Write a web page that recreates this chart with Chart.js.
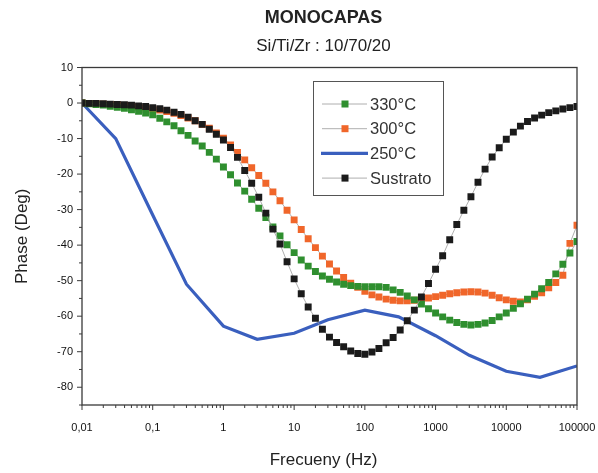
<!DOCTYPE html>
<html>
<head>
<meta charset="utf-8">
<script src="https://cdn.jsdelivr.net/npm/chart.js@4.4.1/dist/chart.umd.min.js"></script>
<style>
    html, body { margin: 0; padding: 0; background: #fff; }
    #wrap { width: 598px; height: 473px; }
</style>
</head>
<body>
<div id="wrap"><canvas id="phaseChart" width="598" height="473"></canvas></div>
<script>
// Frequencies of the measured series (10 points per decade)
const freqs = [
    0.01, 0.0126, 0.0158, 0.02, 0.0251, 0.0316, 0.0398, 0.0501, 0.0631, 0.0794,
    0.1, 0.126, 0.158, 0.2, 0.251, 0.316, 0.398, 0.501, 0.631, 0.794,
    1, 1.26, 1.58, 2, 2.51, 3.16, 3.98, 5.01, 6.31, 7.94,
    10, 12.6, 15.8, 20, 25.1, 31.6, 39.8, 50.1, 63.1, 79.4,
    100, 126, 158, 200, 251, 316, 398, 501, 631, 794,
    1000, 1259, 1585, 1995, 2512, 3162, 3981, 5012, 6310, 7943,
    10000, 12589, 15849, 19953, 25119, 31623, 39811, 50119, 63096, 79433,
    100000
];

const sustrato = [
    0, -0.1, -0.1, -0.2, -0.3, -0.4, -0.5, -0.6, -0.8, -1.0,
    -1.3, -1.6, -2.0, -2.6, -3.2, -4.0, -5.0, -6.0, -7.4, -8.8,
    -10.4, -12.5, -15.3, -19.0, -22.6, -26.5, -31.0, -35.5, -39.7, -44.7,
    -49.5, -53.7, -57.4, -60.6, -63.7, -65.9, -67.4, -68.6, -69.8, -70.5,
    -70.7, -70.1, -69.1, -67.5, -66.0, -63.9, -61.3, -58.3, -54.6, -50.8,
    -46.8, -43.0, -38.5, -34.2, -30.2, -26.4, -22.3, -18.6, -15.2, -12.6,
    -10.2, -8.2, -6.5, -5.2, -4.2, -3.4, -2.7, -2.2, -1.7, -1.3,
    -1.0
];

const t330 = [
    0, -0.2, -0.4, -0.6, -0.9, -1.2, -1.5, -1.9, -2.3, -2.8,
    -3.3, -4.3, -5.3, -6.4, -7.8, -9.1, -10.7, -12.1, -13.9, -15.8,
    -18.0, -20.2, -22.5, -24.8, -27.1, -29.6, -32.2, -34.9, -37.4, -39.9,
    -42.1, -44.2, -45.9, -47.4, -48.7, -49.6, -50.4, -51.0, -51.4, -51.6,
    -51.7, -51.7, -51.7, -51.9, -52.6, -53.3, -54.3, -55.4, -56.6, -57.9,
    -59.1, -60.2, -61.1, -61.8, -62.3, -62.5, -62.3, -61.9, -61.2, -60.2,
    -59.1, -57.8, -56.5, -55.2, -53.8, -52.3, -50.5, -48.1, -45.4, -42.2,
    -39.0
];

const t300 = [
    0, -0.1, -0.2, -0.3, -0.4, -0.5, -0.7, -0.9, -1.1, -1.4,
    -1.7, -2.0, -2.4, -2.9, -3.5, -4.2, -5.0, -6.0, -7.1, -8.4,
    -9.9, -11.8, -13.9, -16.0, -18.2, -20.4, -22.6, -25.0, -27.5, -30.2,
    -32.9, -35.6, -38.2, -40.7, -43.1, -45.3, -47.3, -49.1, -50.7, -51.9,
    -53.0, -54.0, -54.6, -55.2, -55.5, -55.7, -55.7, -55.5, -55.2, -54.9,
    -54.5, -54.1, -53.7, -53.4, -53.2, -53.1, -53.2, -53.5, -54.1, -54.8,
    -55.4, -55.8, -56.0, -55.4, -54.4, -53.4, -52.0, -50.5, -48.5, -39.5,
    -34.4
];

// 250ºC is a plain line with its own (coarser) frequencies
const freqs250 = [0.01, 0.03, 0.1, 0.3, 1, 3, 10, 30, 100, 300, 1000, 3000, 10000, 30000, 100000];
const t250 = [0, -10, -31.5, -51, -62.8, -66.5, -64.8, -61, -58.3, -60.2, -65.5, -71, -75.5, -77.2, -74];

const xTickValues = [0.01, 0.1, 1, 10, 100, 1000, 10000, 100000];
const xTickLabels = ['0,01', '0,1', '1', '10', '100', '1000', '10000', '100000'];
const yTickValues = [10, 0, -10, -20, -30, -40, -50, -60, -70, -80];

const FONT = "'Liberation Sans', Arial, sans-serif";
const toPoints = (xs, ys) => xs.map((f, i) => ({ x: f, y: ys[i] }));

function markerSeries(label, values, color, order) {
    return {
        label,
        data: toPoints(freqs, values),
        borderColor: '#9a9a9a',
        borderWidth: 0.8,
        pointStyle: 'rect',
        pointRadius: 4.9,
        pointBorderWidth: 0,
        pointBackgroundColor: color,
        pointBorderColor: color,
        order
    };
}

// Frame + outward tick marks (major and minor)
const frameTicks = {
    id: 'frameTicks',
    afterDraw(chart) {
        const { ctx, chartArea: a, scales: { x, y } } = chart;
        ctx.save();
        ctx.strokeStyle = '#3a3a3a';
        ctx.lineWidth = 1.3;
        ctx.strokeRect(a.left, a.top, a.right - a.left, a.bottom - a.top);
        ctx.lineWidth = 1;
        ctx.beginPath();
        xTickValues.forEach((d, i) => {
            const px = x.getPixelForValue(d);
            ctx.moveTo(px, a.bottom);
            ctx.lineTo(px, a.bottom + 5);
            if (i < xTickValues.length - 1) {
                for (let m = 2; m <= 9; m++) {
                    const mx = x.getPixelForValue(d * m);
                    ctx.moveTo(mx, a.bottom);
                    ctx.lineTo(mx, a.bottom + 3);
                }
            }
        });
        for (let v = -85; v <= 10; v += 5) {
            const py = y.getPixelForValue(v);
            ctx.moveTo(a.left, py);
            ctx.lineTo(a.left - (v % 10 === 0 ? 5 : 3), py);
        }
        ctx.stroke();
        ctx.restore();
    }
};

// Titles and axis titles
const titles = {
    id: 'titles',
    afterDraw(chart) {
        const { ctx, chartArea: a } = chart;
        const cx = (a.left + a.right) / 2 - 6;
        ctx.save();
        ctx.fillStyle = '#222';
        ctx.textAlign = 'center';
        ctx.textBaseline = 'middle';
        ctx.font = 'bold 18px ' + FONT;
        ctx.fillText('MONOCAPAS', cx, 18);
        ctx.font = '17px ' + FONT;
        ctx.fillText('Si/Ti/Zr : 10/70/20', cx, 46);
        ctx.fillText('Frecueny (Hz)', cx, 460);
        ctx.translate(22, (a.top + a.bottom) / 2);
        ctx.rotate(-Math.PI / 2);
        ctx.fillText('Phase (Deg)', 0, 0);
        ctx.restore();
    }
};

// Boxed legend inside the plot, Origin style
const boxLegend = {
    id: 'boxLegend',
    afterDraw(chart) {
        const { ctx } = chart;
        const left = 313, top = 81, w = 130, h = 114;
        ctx.save();
        ctx.strokeStyle = '#555';
        ctx.lineWidth = 1;
        ctx.strokeRect(left + 0.5, top + 0.5, w, h);
        ctx.font = '16.5px ' + FONT;
        ctx.textBaseline = 'middle';
        ctx.textAlign = 'left';
        chart.data.datasets.forEach((ds, i) => {
            const yy = top + 23 + i * 24.7;
            if (ds.pointRadius > 0) {
                ctx.strokeStyle = '#9a9a9a';
                ctx.lineWidth = 0.8;
                ctx.beginPath();
                ctx.moveTo(322, yy);
                ctx.lineTo(367, yy);
                ctx.stroke();
                ctx.fillStyle = ds.pointBackgroundColor;
                ctx.fillRect(341.5, yy - 3.5, 7, 7);
            } else {
                ctx.strokeStyle = ds.borderColor;
                ctx.lineWidth = ds.borderWidth;
                ctx.beginPath();
                ctx.moveTo(321, yy);
                ctx.lineTo(368, yy);
                ctx.stroke();
            }
            ctx.fillStyle = '#333';
            ctx.fillText(ds.label, 370, yy + 1);
        });
        ctx.restore();
    }
};

new Chart(document.getElementById('phaseChart'), {
    type: 'line',
    data: {
        datasets: [
            markerSeries('330°C', t330, '#2f8f2f', 1),
            markerSeries('300°C', t300, '#f0662a', 2),
            {
                label: '250°C',
                data: toPoints(freqs250, t250),
                borderColor: '#3a5fbe',
                borderWidth: 3.2,
                pointRadius: 0,
                tension: 0,
                order: 3
            },
            markerSeries('Sustrato', sustrato, '#1b1b1b', 0)
        ]
    },
    options: {
        responsive: false,
        animation: false,
        events: [],
        layout: { padding: { top: 67.5, right: 21, left: 0, bottom: 0 } },
        plugins: {
            legend: { display: false },
            tooltip: { enabled: false },
            title: { display: false }
        },
        scales: {
            x: {
                type: 'logarithmic',
                min: 0.01,
                max: 100000,
                afterBuildTicks: s => { s.ticks = xTickValues.map(v => ({ value: v })); },
                afterFit: s => { s.height = 68; s.paddingLeft = 0; s.paddingRight = 0; },
                grid: { display: false, drawTicks: false },
                border: { display: false },
                ticks: {
                    callback: (v, i) => xTickLabels[i],
                    autoSkip: false,
                    maxRotation: 0,
                    padding: 16,
                    color: '#111',
                    font: { family: FONT, size: 11 }
                }
            },
            y: {
                min: -85,
                max: 10,
                afterBuildTicks: s => { s.ticks = yTickValues.map(v => ({ value: v })); },
                afterFit: s => { s.width = 82; s.paddingTop = 0; s.paddingBottom = 0; },
                grid: { display: false, drawTicks: false },
                border: { display: false },
                ticks: {
                    callback: v => String(v),
                    padding: 9,
                    color: '#111',
                    font: { family: FONT, size: 11 }
                }
            }
        }
    },
    plugins: [frameTicks, titles, boxLegend]
});
</script>
</body>
</html>
